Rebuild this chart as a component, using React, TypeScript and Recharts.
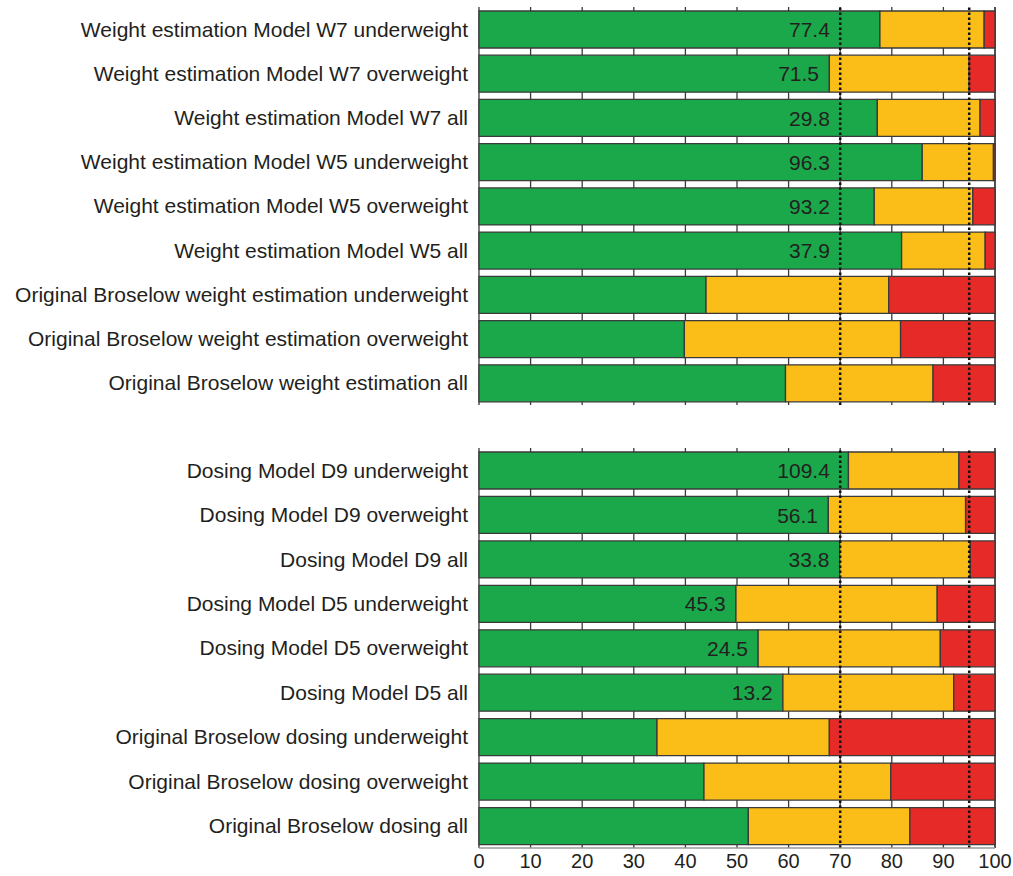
import { BarChart, Bar, XAxis, YAxis, CartesianGrid, ReferenceLine, LabelList } from 'recharts';

const weightCategories = [
  'Weight estimation Model W7 underweight',
  'Weight estimation Model W7 overweight',
  'Weight estimation Model W7 all',
  'Weight estimation Model W5 underweight',
  'Weight estimation Model W5 overweight',
  'Weight estimation Model W5 all',
  'Original Broselow weight estimation underweight',
  'Original Broselow weight estimation overweight',
  'Original Broselow weight estimation all',
];
const weightGreen = [77.7, 67.9, 77.2, 85.9, 76.6, 81.9, 44.0, 39.8, 59.4];
const weightYellow = [20.2, 27.1, 19.9, 13.8, 19.1, 16.2, 35.4, 41.9, 28.6];
const weightRed = [2.1, 5.0, 2.9, 0.3, 4.3, 1.9, 20.6, 18.3, 12.0];
const weightLabels = ['77.4', '71.5', '29.8', '96.3', '93.2', '37.9', null, null, null];

const dosingCategories = [
  'Dosing Model D9 underweight',
  'Dosing Model D9 overweight',
  'Dosing Model D9 all',
  'Dosing Model D5 underweight',
  'Dosing Model D5 overweight',
  'Dosing Model D5 all',
  'Original Broselow dosing underweight',
  'Original Broselow dosing overweight',
  'Original Broselow dosing all',
];
const dosingGreen = [71.6, 67.7, 69.9, 49.8, 54.1, 58.9, 34.5, 43.6, 52.2];
const dosingYellow = [21.4, 26.6, 25.3, 39.0, 35.3, 33.1, 33.4, 36.2, 31.3];
const dosingRed = [7.0, 5.7, 4.8, 11.2, 10.6, 8.0, 32.1, 20.2, 16.5];
const dosingLabels = ['109.4', '56.1', '33.8', '45.3', '24.5', '13.2', null, null, null];

const xTicks = [0, 10, 20, 30, 40, 50, 60, 70, 80, 90, 100];
const thresholds = [70, 95];

const GREEN = '#1aa84b';
const YELLOW = '#fbbd17';
const RED = '#e52a27';
const OUTLINE = '#3a3a3a';
const TEXT = '#231f20';
const FONT = '"Liberation Sans", Arial, sans-serif';

type Row = { name: string; green: number; yellow: number; red: number; label: string | null };

function buildRows(cats: string[], g: number[], y: number[], r: number[], l: (string | null)[]): Row[] {
  return cats.map((name, i) => ({ name, green: g[i], yellow: y[i], red: r[i], label: l[i] }));
}

// value text sits at the right end of the green segment, but never past ~68
function makeLabel(rows: Row[]) {
  return (props: any) => {
    const { x, y, width, height, index, value } = props;
    if (value == null) return null;
    const g = rows[index].green;
    const pxPerUnit = width / g;
    const endX = x + (Math.min(g, 70) - 2) * pxPerUnit;
    return (
      <text x={endX} y={y + height / 2} dy="0.36em" textAnchor="end" fontSize={21} fill={TEXT} fontFamily={FONT}>
        {value}
      </text>
    );
  };
}

function Panel({ rows, showAxis }: { rows: Row[]; showAxis: boolean }) {
  const height = showAxis ? 433 : 405;
  return (
    <BarChart
      width={1013}
      height={height}
      data={rows}
      layout="vertical"
      margin={{ top: 7, right: 18, bottom: 0, left: 0 }}
      barSize={37}
    >
      <CartesianGrid vertical horizontal={false} stroke={OUTLINE} strokeWidth={1.3} />
      <XAxis
        type="number"
        domain={[0, 100]}
        ticks={xTicks}
        hide={!showAxis}
        height={26}
        axisLine={{ stroke: '#9a9a9a', strokeWidth: 1.5 }}
        tickLine={false}
        tickSize={0}
        tickMargin={6}
        tick={{ fontSize: 20, fill: TEXT, fontFamily: FONT }}
        interval={0}
      />
      <YAxis
        type="category"
        dataKey="name"
        width={479}
        axisLine={false}
        tickLine={false}
        tickSize={0}
        tickMargin={11}
        interval={0}
        tick={{ fontSize: 21, fill: TEXT, fontFamily: FONT }}
      />
      <Bar dataKey="green" stackId="s" fill={GREEN} stroke={OUTLINE} strokeWidth={1.3} isAnimationActive={false}>
        <LabelList dataKey="label" content={makeLabel(rows)} />
      </Bar>
      <Bar dataKey="yellow" stackId="s" fill={YELLOW} stroke={OUTLINE} strokeWidth={1.3} isAnimationActive={false} />
      <Bar dataKey="red" stackId="s" fill={RED} stroke={OUTLINE} strokeWidth={1.3} isAnimationActive={false} />
      {thresholds.map(t => (
        <ReferenceLine key={t} x={t} stroke="#111" strokeWidth={2.5} strokeDasharray="2.5 2.5" />
      ))}
    </BarChart>
  );
}

export default function App() {
  const weightRows = buildRows(weightCategories, weightGreen, weightYellow, weightRed, weightLabels);
  const dosingRows = buildRows(dosingCategories, dosingGreen, dosingYellow, dosingRed, dosingLabels);
  return (
    <div style={{ position: 'absolute', left: 0, top: 0, width: 1013, height: 876, background: '#fff', fontFamily: FONT }}>
      <div style={{ position: 'absolute', left: 0, top: 0 }}>
        <Panel rows={weightRows} showAxis={false} />
      </div>
      <div style={{ position: 'absolute', left: 0, top: 441 }}>
        <Panel rows={dosingRows} showAxis />
      </div>
    </div>
  );
}
